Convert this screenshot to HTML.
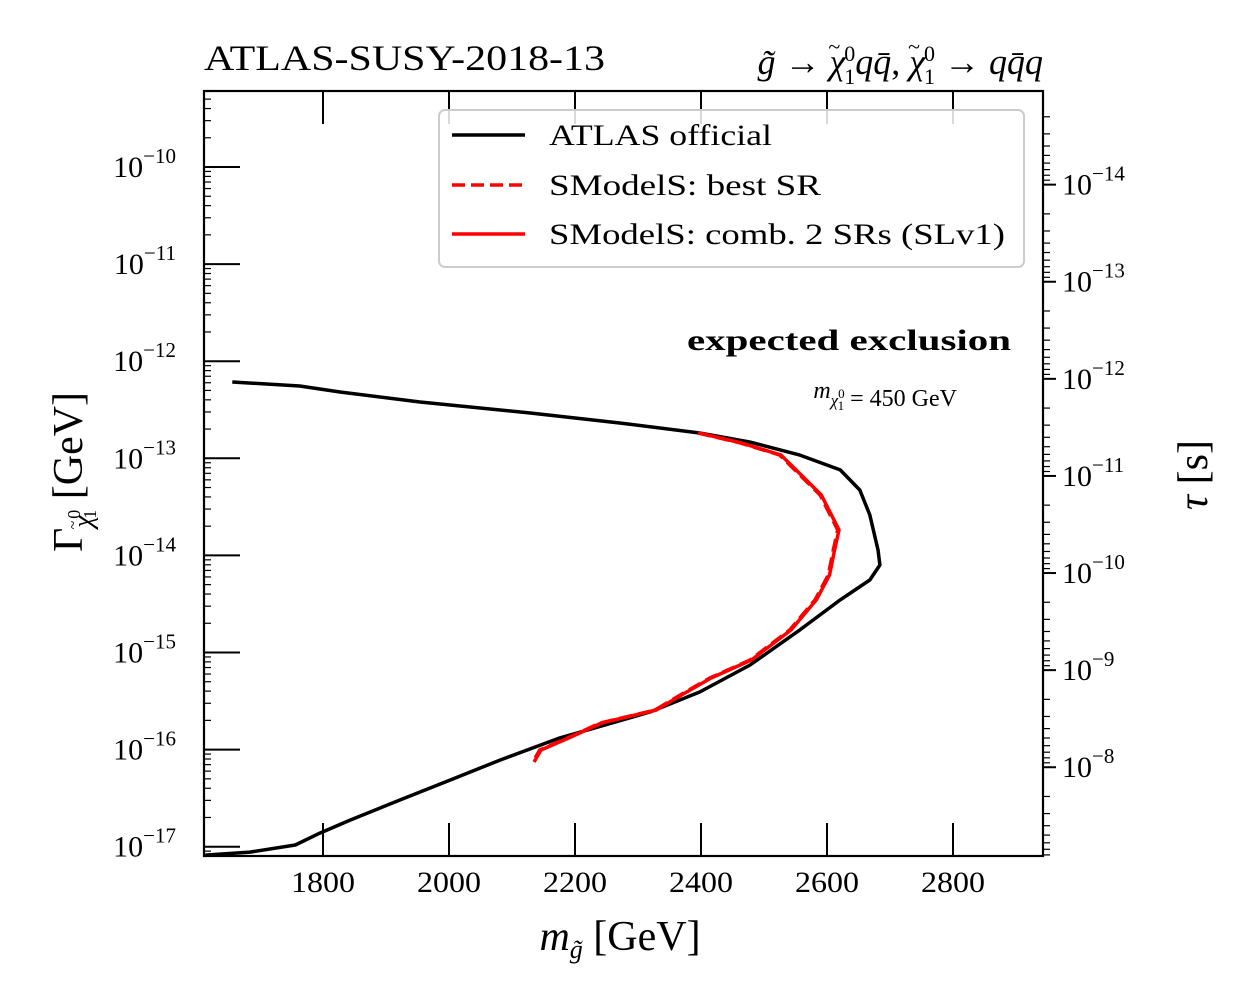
<!DOCTYPE html>
<html><head><meta charset="utf-8"><style>
body{margin:0;background:#fff}
svg text{font-family:"Liberation Serif",serif;fill:#000}
</style></head><body>
<svg id="c" width="1250" height="1000" xmlns="http://www.w3.org/2000/svg"></svg>
<script>
const atlasMass=[1656,1763,1827,1954,2129,2271,2398,2478,2557,2621,2652,2668,2681,2684,2668,2621,2557,2478,2398,2319,2176,2081,2002,1922,1843,1795,1756,1684,1613];
const atlasWidth=[6.1e-13,5.56e-13,4.82e-13,3.8e-13,2.93e-13,2.31e-13,1.82e-13,1.47e-13,1.08e-13,7.6e-14,4.72e-14,2.61e-14,1.14e-14,7.96e-15,5.58e-15,3.48e-15,1.71e-15,7.43e-16,3.92e-16,2.44e-16,1.32e-16,7.8e-17,4.86e-17,3.03e-17,1.88e-17,1.38e-17,1.04e-17,8.8e-18,8.2e-18];
const bestMass=[2395,2462,2525,2557,2589,2605,2617,2610,2602,2581,2541,2478,2414,2367,2327,2240,2192,2144,2133];
const bestWidth=[1.82e-13,1.44e-13,1.08e-13,6.73e-14,4.19e-14,2.61e-14,1.83e-14,1.14e-14,6.28e-15,3.48e-15,1.71e-15,8.38e-16,5.46e-16,3.65e-16,2.56e-16,1.88e-16,1.35e-16,9.9e-17,7.45e-17];
const combMass=[2397,2464,2527,2559,2591,2607,2619,2612,2604,2583,2543,2480,2416,2369,2329,2242,2194,2146,2135];
const combWidth=[1.82e-13,1.44e-13,1.08e-13,6.73e-14,4.19e-14,2.61e-14,1.83e-14,1.14e-14,6.28e-15,3.48e-15,1.71e-15,8.38e-16,5.46e-16,3.65e-16,2.56e-16,1.88e-16,1.35e-16,9.9e-17,7.45e-17];
const xTicks=[1800,2000,2200,2400,2600,2800];
const yTicks=[-10,-11,-12,-13,-14,-15,-16,-17];
const tauTicks=[-14,-13,-12,-11,-10,-9,-8];
const HBAR=6.582e-25;
const L=204,R=1043,T=91,B=856;
const X=m=>323+(m-1800)*0.63;
const Y=g=>167+(-10-Math.log10(g))*97.1;
const svg=document.getElementById('c');
const NS='http://www.w3.org/2000/svg';
function mk(t,a,p){const e=document.createElementNS(NS,t);for(const k in a)e.setAttribute(k,a[k]);(p||svg).appendChild(e);return e;}
function line(x1,y1,x2,y2,w,nm){const e=mk('line',{x1,y1,x2,y2,stroke:'#000','stroke-width':w});return e;}
xTicks.forEach(m=>{const x=X(m);line(x,B,x,B-33,2,'x-tick');line(x,T,x,T+33,2,'x-tick-top');
 const t=mk('text',{x:x,y:892,'font-size':30,'text-anchor':'middle',textLength:64,lengthAdjust:'spacingAndGlyphs'});t.textContent=m;});
for(let d=-18;d<=-9;d++){for(let k=1;k<10;k++){const g=k*Math.pow(10,d);const y=Y(g);if(y<T||y>B)continue;
 if(k==1){line(L,y,L+36,y,2,'y-tick');}else{line(L,y,L+7,y,1.2,'y-minor-tick');}}}
yTicks.forEach(p=>{const y=Y(Math.pow(10,p));const t=mk('text',{x:176,y:y+10,'font-size':30,'text-anchor':'end'});t.innerHTML='10<tspan dy="-14" font-size="21">−'+(-p)+'</tspan>';});
for(let d=-17;d<=-7;d++){for(let k=1;k<10;k++){const tau=k*Math.pow(10,d);const y=Y(HBAR/tau);if(y<T||y>B)continue;
 if(k==1)line(R,y,R+13,y,2,'tau-tick');else line(R,y,R+7,y,1.2,'tau-minor-tick');}}
tauTicks.forEach(p=>{const y=Y(HBAR/Math.pow(10,p));const t=mk('text',{x:1062,y:y+10,'font-size':30});t.innerHTML='10<tspan dy="-14" font-size="21">−'+(-p)+'</tspan>';});
const fr=mk('rect',{x:L,y:T,width:R-L,height:B-T,fill:'none',stroke:'#000','stroke-width':2.2});
function path(ms,ws,col,dash,nm){let d='';ms.forEach((m,i)=>{d+=(i?'L':'M')+X(m).toFixed(1)+' '+Y(ws[i]).toFixed(1);});
 const a={d,fill:'none',stroke:col,'stroke-width':3.5,'stroke-linejoin':'round'};if(dash)a['stroke-dasharray']=dash;const e=mk('path',a);}
path(atlasMass,atlasWidth,'#000',null,'atlas-official-line');
path(combMass,combWidth,'#f00',null,'smodels-comb-line');
path(bestMass,bestWidth,'#f00','13 6','smodels-best-sr-line');
const lg=mk('g',{});
mk('rect',{x:439,y:110,width:585,height:157,rx:6,fill:'#fff','fill-opacity':0.85,stroke:'#ccc','stroke-width':2},lg);
[['ATLAS official','#000',null,135,223],['SModelS: best SR','#f00','13 6',185,272],['SModelS: comb. 2 SRs (SLv1)','#f00',null,234,456]].forEach(([s,c,da,y,w])=>{
 const g=mk('g',{},lg);
 const a={x1:452,y1:y,x2:525,y2:y,stroke:c,'stroke-width':3.5};if(da)a['stroke-dasharray']=da;mk('line',a,g);
 const t=mk('text',{x:549,y:y+10,'font-size':30,textLength:w,lengthAdjust:'spacingAndGlyphs'},g);t.textContent=s;});
function txt(x,y,s,fs,nm,extra){const t=mk('text',Object.assign({x,y,'font-size':fs},extra||{}));t.innerHTML=s;return t;}
txt(204,70,'ATLAS-SUSY-2018-13',36,'title-left',{textLength:401,lengthAdjust:'spacingAndGlyphs'});
const CHI='<tspan font-style="italic">χ</tspan><tspan font-size="22" dx="-17" dy="-20">~</tspan><tspan font-size="22" dx="4" dy="7">0</tspan><tspan dy="23" dx="-11" font-size="22">1</tspan>';
txt(1043,74,'<tspan font-style="italic">g̃</tspan> → '+CHI+'<tspan dy="-10" font-style="italic">qq̄</tspan>, '+CHI+'<tspan dy="-10"> → </tspan><tspan font-style="italic">qq̄q</tspan>',36,'title-right',{'text-anchor':'end'});
txt(1011,350,'expected exclusion',30,'annotation-expected',{'text-anchor':'end','font-weight':'bold',textLength:324,lengthAdjust:'spacingAndGlyphs'});
txt(957,398,'<tspan font-style="italic">m</tspan><tspan font-size="17" dy="8" font-style="italic">χ</tspan><tspan font-size="13" dy="-8">0</tspan><tspan font-size="13" dy="12" dx="-7">1</tspan><tspan dy="-4"> = 450 GeV</tspan>',24,'annotation-mass',{'text-anchor':'end'});
txt(620,950,'<tspan font-style="italic">m</tspan><tspan font-style="italic" font-size="26" dy="8">g̃</tspan><tspan dy="-8"> [GeV]</tspan>',42,'x-axis-title',{'text-anchor':'middle'});
txt(0,0,'Γ<tspan font-style="italic" font-size="28" dy="10">χ</tspan><tspan font-size="16" dx="-14" dy="-14">~</tspan><tspan font-size="18" dy="2" dx="2">0</tspan><tspan font-size="18" dy="16" dx="-9">1</tspan><tspan dy="-14"> [GeV]</tspan>',42,'y-axis-title',{'text-anchor':'middle',transform:'translate(82,472) rotate(-90)'});
txt(0,0,'<tspan font-style="italic">τ</tspan> [s]',42,'tau-axis-title',{'text-anchor':'middle',transform:'translate(1207,475) rotate(-90)'});
</script>
</body></html>
